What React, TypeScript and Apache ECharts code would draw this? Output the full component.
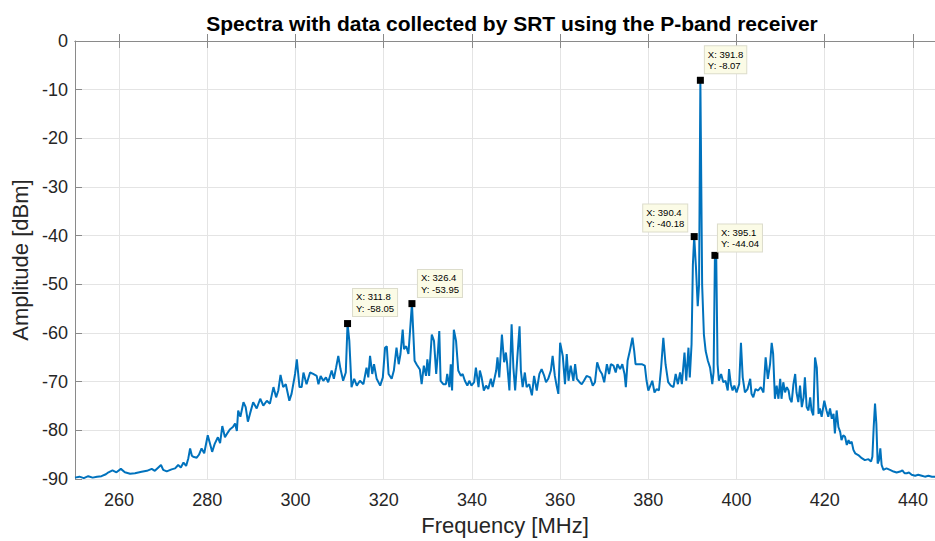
import React, { useEffect, useRef } from "react";
import * as echarts from "echarts";

const titleText = "Spectra with data collected by SRT using the P-band receiver";
const xAxisName = "Frequency [MHz]";
const yAxisName = "Amplitude [dBm]";
const xTicks = [260, 280, 300, 320, 340, 360, 380, 400, 420, 440];

const freqMHz = [
  250.0, 251.0, 252.0, 253.0, 254.0, 255.0, 256.0, 257.0, 257.6, 258.5, 259.4, 260.4, 261.3, 262.5, 263.6, 265.1,
  266.3, 267.4, 268.1, 268.9, 269.5, 270.0, 270.8, 271.9, 272.7, 273.4, 274.0, 274.6, 275.2, 275.7, 276.1, 276.5,
  276.8, 277.6, 278.1, 278.7, 279.3, 280.1, 280.6, 281.1, 281.7, 282.4, 282.9, 283.4, 284.0, 284.6, 285.1, 285.8,
  286.3, 286.7, 287.0, 287.5, 288.2, 288.7, 289.2, 289.7,
  290.4, 291.2, 292.0, 292.7, 293.5, 294.2, 295.0, 295.6, 296.1, 296.6, 297.2, 297.8, 298.6, 299.1, 299.9, 300.3,
  300.9, 301.4, 301.8, 302.5, 303.3, 304.0, 304.8, 305.2, 305.7, 306.3, 306.9, 307.4, 308.2, 308.7, 309.2, 309.7,
  310.2, 310.8, 311.4, 311.8, 312.2, 312.7, 313.3, 313.9, 314.6, 315.4, 316.1, 316.5, 316.9, 317.4, 317.8, 318.4,
  319.2, 319.8, 320.3, 320.7, 321.1, 321.8, 322.3, 322.9, 323.4, 323.8, 324.3, 324.6, 325.1, 325.6, 326.4, 327.0,
  327.5, 328.2, 328.6, 329.1, 329.6, 329.9, 330.3, 330.9, 331.4, 331.9, 332.2, 332.6, 332.9, 333.5, 334.1, 334.4,
  334.9, 335.2, 335.5, 335.9, 336.4, 336.9, 337.5, 337.9, 338.4, 338.96, 339.4, 339.9, 340.5, 340.9, 341.5, 341.8,
  342.2, 342.7, 343.2, 343.7, 344.3, 344.7, 345.5, 345.8, 346.2, 346.8, 347.3, 347.7, 348.0, 348.5, 349.0, 349.4,
  349.8, 350.3, 350.8, 351.1, 351.5, 352.0, 352.4, 353.0, 353.6, 354.1, 354.7, 355.3, 355.8, 356.4, 356.8, 357.3,
  357.9, 358.3, 358.8, 359.2, 359.6, 360.0, 360.6, 361.1, 361.5, 361.9, 362.4, 363.0, 363.4, 363.8, 364.4, 364.9,
  365.4, 366.0, 366.8, 367.4, 367.9, 368.4, 369.0, 369.5, 370.0, 370.6, 371.1, 371.5, 372.1, 372.6, 373.0, 373.6,
  374.1, 374.6, 374.9, 375.3, 375.8, 376.4, 376.8, 377.1, 377.7, 378.5, 379.2, 379.6, 380.0, 380.6, 380.9, 381.4,
  381.9, 382.4, 382.9, 383.4, 383.9, 384.5, 385.1, 385.7, 386.2, 386.7, 387.2, 387.6, 388.2, 388.6, 389.1, 389.4,
  389.8, 390.1, 390.4, 390.8, 391.2, 391.5, 391.8, 392.2, 392.6, 393.0, 393.5, 394.0, 394.5, 394.8, 395.1, 395.4,
  395.7, 396.0, 396.5, 397.0, 397.5, 398.0, 398.3, 398.7, 399.1, 399.5, 400.0, 400.6, 401.0, 401.4, 401.9, 402.5,
  403.1, 403.4, 403.8, 404.3, 404.9, 405.5, 406.1, 406.6, 407.1, 407.6, 407.97, 408.3, 408.7, 409.1, 409.5, 409.9,
  410.2, 410.6, 411.0, 411.4, 411.8, 412.1, 412.5, 412.9, 413.3, 413.6, 414.0, 414.4, 414.8, 415.2, 415.5, 415.9,
  416.3, 416.7, 417.0, 417.4, 417.8, 418.2, 418.6, 418.9, 419.3, 419.9, 420.4, 420.8, 421.2, 421.6, 422.0, 422.3,
  422.7, 423.1, 423.5, 423.8, 424.2, 424.6, 425.0, 425.4, 425.7, 426.1, 426.5, 426.9, 427.6, 428.4, 429.1, 429.9,
  430.5, 430.8, 431.1, 431.4, 431.7, 432.0, 432.3, 432.6, 432.9, 433.3, 434.0, 434.8, 435.6, 436.3, 437.1, 437.6,
  438.1, 438.6, 439.1, 439.7, 440.5, 441.2, 442.0, 442.7, 443.5, 444.3, 445.0,
];

const ampDbm = [
  -89.7, -89.5, -89.8, -89.4, -89.7, -89.5, -89.4, -89.0, -88.6, -88.2, -88.6, -87.9, -88.6, -88.9, -88.8, -88.5,
  -88.3, -87.9, -88.3, -87.6, -87.1, -88.1, -88.4, -88.0, -87.8, -87.1, -87.6, -86.6, -87.3, -85.7, -83.7, -85.2,
  -85.4, -85.6, -85.0, -83.7, -84.7, -81.0, -82.7, -84.4, -82.7, -81.4, -82.6, -79.1, -81.4, -80.5, -79.8, -79.3,
  -78.6, -80.1, -75.9, -77.2, -74.2, -75.2, -78.2, -76.5,
  -74.2, -75.5, -73.5, -74.9, -73.9, -74.5, -71.1, -73.2, -71.8, -68.6, -71.1, -70.5, -73.9, -72.5, -68.4, -65.4,
  -71.1, -71.1, -68.1, -70.5, -68.1, -68.4, -68.8, -70.5, -68.8, -69.8, -69.1, -70.1, -67.7, -69.4, -67.1, -64.7,
  -67.4, -69.8, -68.1, -58.05, -61.6, -71.1, -69.4, -70.8, -69.8, -70.5, -67.1, -69.1, -64.7, -68.4, -66.4, -69.4,
  -70.8, -69.1, -63.0, -62.7, -68.4, -69.4, -67.7, -63.0, -66.4, -64.3, -59.3, -63.3, -62.7, -64.3, -53.95, -65.7,
  -66.5, -67.5, -70.5, -66.7, -68.8, -65.4, -68.8, -60.3, -61.6, -68.4, -65.0, -59.6, -69.8, -70.5, -70.5, -68.4,
  -71.1, -66.4, -71.8, -59.3, -61.6, -67.7, -68.8, -68.4, -69.8, -70.8, -69.8, -70.8, -70.1, -67.1, -71.1, -67.7,
  -69.1, -71.8, -70.8, -71.5, -69.4, -71.1, -67.7, -65.0, -69.1, -60.3, -66.0, -64.0, -66.4, -71.8, -58.2, -67.1,
  -71.8, -65.0, -58.6, -67.7, -71.1, -68.1, -71.1, -70.5, -72.8, -68.8, -71.8, -68.4, -67.4, -68.8, -70.1, -69.4,
  -67.7, -64.7, -68.8, -70.8, -72.5, -62.0, -64.7, -70.5, -64.3, -69.8, -66.7, -69.8, -66.4, -69.4, -70.1, -70.5,
  -69.8, -68.8, -69.1, -70.8, -70.1, -66.0, -67.7, -68.4, -70.1, -66.4, -68.4, -66.4, -66.7, -68.1, -66.4, -67.4,
  -66.4, -68.4, -71.1, -65.7, -63.7, -60.96, -63.7, -66.4, -66.4, -66.4, -66.7, -69.8, -71.8, -70.5, -69.8, -72.2,
  -71.5, -71.8, -67.1, -60.96, -66.4, -70.1, -70.8, -71.1, -68.4, -70.5, -68.1, -70.5, -64.0, -69.8, -63.0, -69.1,
  -62.3, -46.0, -40.18, -46.5, -54.5, -50.1, -8.07, -50.1, -60.3, -63.7, -65.7, -67.1, -70.5, -68.0, -44.04, -44.7,
  -66.4, -69.8, -68.4, -70.1, -69.8, -71.8, -67.4, -70.5, -71.8, -70.8, -72.2, -70.5, -62.0, -69.1, -72.2, -71.5,
  -69.4, -72.5, -73.2, -71.5, -71.8, -71.1, -72.2, -65.0, -69.4, -66.4, -62.0, -64.3, -73.5, -70.8, -73.5, -69.4,
  -73.5, -70.1, -72.2, -71.1, -71.8, -73.5, -74.2, -70.5, -68.4, -72.2, -74.2, -70.8, -75.2, -73.2, -69.1, -75.2,
  -75.9, -73.2, -75.9, -76.9, -65.0, -67.1, -76.6, -75.5, -77.2, -73.9, -75.9, -77.2, -75.5, -77.6, -76.6, -80.6,
  -75.9, -79.3, -80.3, -82.0, -81.0, -81.3, -83.0, -82.0, -82.7, -82.3, -84.0, -84.7, -85.05, -85.7, -86.1, -85.9,
  -86.4, -85.4, -79.3, -74.5, -78.6, -86.8, -86.1, -83.7, -87.1, -88.1, -87.8, -88.1, -88.45, -88.65, -88.45, -88.2,
  -88.8, -88.8, -88.65, -89.1, -89.3, -89.1, -89.3, -89.5, -89.3, -89.5, -89.5,
];

// data tips
const tipX = [311.8, 326.4, 390.4, 391.8, 395.1];
const tipY = [-58.05, -53.95, -40.18, -8.07, -44.04];
const tipOffset: [number, number][] = [
  [9, -31],
  [9.5, -30],
  [-47.5, -28.5],
  [8, -30.5],
  [6.5, -27.5],
];

const FONT = "'Liberation Sans', Arial, Helvetica, sans-serif";
const TEXT = "#262626";

export default function App() {
  const ref = useRef<HTMLDivElement>(null);
  useEffect(() => {
    if (!ref.current) return;
    const chart = echarts.init(ref.current, undefined, { renderer: "svg" });
    const data = freqMHz.map((f, i) => [f, ampDbm[i]]);
    const axisLineStyle = { color: "#8a8a8a", width: 1 };
    chart.setOption({
      animation: false,
      backgroundColor: "#ffffff",
      title: {
        text: titleText,
        left: 507,
        top: 8,
        textAlign: "center",
        textStyle: { fontFamily: FONT, fontWeight: "bold", fontSize: 21, color: "#000" },
      },
      grid: { left: 75, right: 0, top: 41, bottom: 58.5, containLabel: false },
      xAxis: [
        {
          type: "value",
          min: 250,
          max: 445,
          name: xAxisName,
          nameLocation: "middle",
          nameGap: 31,
          nameTextStyle: { fontFamily: FONT, fontSize: 22, color: TEXT },
          axisLine: { show: true, lineStyle: axisLineStyle },
          axisTick: { show: true, inside: true, length: 7, customValues: xTicks, lineStyle: axisLineStyle },
          axisLabel: { customValues: xTicks, fontFamily: FONT, fontSize: 18, color: TEXT, margin: 12 },
          splitLine: { show: true, lineStyle: { color: "#e4e4e4", width: 1 } },
        },
        {
          type: "value",
          position: "top",
          min: 250,
          max: 445,
          axisLine: { show: true, lineStyle: axisLineStyle },
          axisTick: { show: true, inside: true, length: 7, customValues: xTicks, lineStyle: axisLineStyle },
          axisLabel: { show: false },
          splitLine: { show: false },
        },
      ],
      yAxis: {
        type: "value",
        min: -90,
        max: 0,
        interval: 10,
        name: yAxisName,
        nameLocation: "middle",
        nameGap: 37,
        nameTextStyle: { fontFamily: FONT, fontSize: 22, color: TEXT },
        axisLine: { show: true, lineStyle: axisLineStyle },
        axisTick: { show: true, inside: true, length: 7, lineStyle: axisLineStyle },
        axisLabel: { fontFamily: FONT, fontSize: 18, color: TEXT, margin: 7 },
        splitLine: { show: true, lineStyle: { color: "#e4e4e4", width: 1 } },
      },
      series: [
        {
          type: "line",
          data,
          showSymbol: false,
          symbol: "none",
          lineStyle: { color: "#0072BD", width: 2 },
          itemStyle: { color: "#0072BD" },
          z: 3,
          markPoint: {
            symbol: "rect",
            symbolSize: 7,
            itemStyle: { color: "#000" },
            data: tipX.map((x, i) => ({
              coord: [x, tipY[i]],
              value: tipY[i],
              label: {
                show: true,
                position: tipOffset[i],
                formatter: `X: ${x}\nY: ${tipY[i]}`,
                fontFamily: FONT,
                fontSize: 9.5,
                lineHeight: 11.5,
                color: "#000",
                backgroundColor: "#fbfbe6",
                borderColor: "#dcdccb",
                borderWidth: 1,
                padding: [2, 3, 2, 3],
                align: "left",
                verticalAlign: "top",
              },
            })),
          },
        },
      ],
    });
    return () => chart.dispose();
  }, []);
  return (
    <div
      ref={ref}
      style={{ position: "absolute", left: 0, top: 0, width: 935, height: 541, background: "#fff" }}
    />
  );
}
